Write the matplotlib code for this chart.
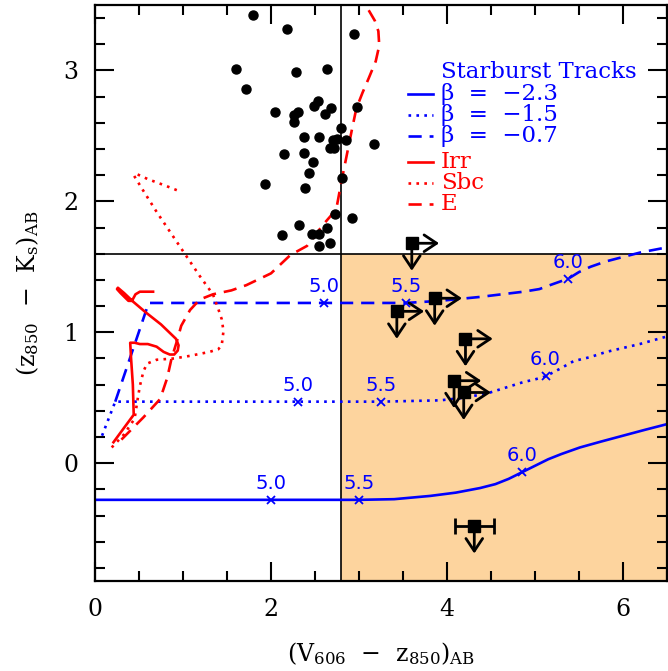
import matplotlib
matplotlib.use("Agg")
import matplotlib.pyplot as plt
from matplotlib.ticker import MultipleLocator

plt.rcParams['font.family'] = ['DejaVu Serif']
plt.rcParams['mathtext.fontset'] = 'dejavuserif'
plt.rcParams['mathtext.default'] = 'regular'

# ---------------- data ----------------
# LBG-like galaxies (filled circles)
dots_x = [1.79, 2.18, 2.94, 1.60, 2.28, 2.64, 1.72, 2.53, 2.49, 2.68, 2.98, 2.05, 2.31,
          2.26, 2.61, 2.26, 2.79, 2.38, 2.54, 2.75, 2.70, 2.85, 3.17, 2.67, 2.72, 2.15,
          2.38, 2.48, 2.43, 2.81, 1.93, 2.39, 2.73, 2.92, 2.32, 2.64, 2.12, 2.47, 2.54,
          2.55, 2.67]
dots_y = [3.42, 3.32, 3.28, 3.01, 2.99, 3.01, 2.86, 2.77, 2.73, 2.71, 2.72, 2.68, 2.68,
          2.66, 2.67, 2.61, 2.56, 2.49, 2.49, 2.48, 2.47, 2.47, 2.44, 2.41, 2.41, 2.36,
          2.37, 2.30, 2.22, 2.18, 2.13, 2.10, 1.90, 1.87, 1.82, 1.80, 1.74, 1.75, 1.75,
          1.66, 1.68]

# limits (squares with arrows)
lim_x = [3.60, 3.86, 3.43, 4.21, 4.08, 4.19]
lim_y = [1.68, 1.26, 1.16, 0.95, 0.63, 0.54]
# detected in V (only upper limit in z-K), with x error bar
det_x = [4.31]
det_y = [-0.48]
det_xerr = [0.22]

# starburst tracks
b23_x = [0.0, 2.0, 3.0, 3.4, 3.81, 4.1, 4.375, 4.55, 4.7, 4.85, 5.0, 5.15, 5.3, 5.51, 5.75,
         6.0, 6.25, 6.51]
b23_y = [-0.28, -0.28, -0.28, -0.275, -0.25, -0.225, -0.19, -0.16, -0.12, -0.07, -0.02,
         0.03, 0.07, 0.12, 0.165, 0.21, 0.255, 0.30]
b15_x = [0.08, 0.23, 2.31, 3.25, 3.92, 4.2, 4.35, 4.49, 4.68, 4.87, 5.0, 5.12, 5.28, 5.44,
         5.625, 5.81, 6.0, 6.19, 6.51]
b15_y = [0.21, 0.47, 0.47, 0.47, 0.48, 0.50, 0.52, 0.54, 0.58, 0.62, 0.64, 0.663, 0.72,
         0.78, 0.81, 0.85, 0.88, 0.91, 0.97]
b07_x = [0.23, 0.61, 2.60, 3.53, 3.92, 4.375, 4.87, 5.05, 5.17, 5.38, 5.5, 5.63, 5.8, 5.97,
         6.2, 6.51]
b07_y = [0.47, 1.224, 1.224, 1.224, 1.24, 1.27, 1.31, 1.33, 1.36, 1.41, 1.46, 1.50, 1.54,
         1.57, 1.61, 1.65]

# redshift markers on the tracks
z_labels = ['5.0', '5.5', '6.0']
b23_zx = [2.0, 3.0, 4.85]
b23_zy = [-0.28, -0.28, -0.07]
b15_zx = [2.31, 3.25, 5.12]
b15_zy = [0.47, 0.47, 0.663]
b07_zx = [2.60, 3.53, 5.38]
b07_zy = [1.224, 1.224, 1.41]

# galaxy template tracks
irr_x = [0.21, 0.33, 0.44, 0.43, 0.41, 0.40, 0.45, 0.51, 0.60, 0.70, 0.78, 0.85, 0.90, 0.94,
         0.95, 0.92, 0.75, 0.58, 0.44, 0.33, 0.26, 0.25, 0.29, 0.38, 0.42, 0.46, 0.51, 0.66]
irr_y = [0.16, 0.27, 0.37, 0.60, 0.80, 0.92, 0.92, 0.91, 0.91, 0.89, 0.85, 0.83, 0.83, 0.86,
         0.90, 0.95, 1.06, 1.15, 1.23, 1.30, 1.34, 1.33, 1.30, 1.24, 1.24, 1.29, 1.31, 1.31]
sbc_x = [0.19, 0.33, 0.45, 0.48, 0.51, 0.55, 0.59, 0.70, 0.90, 1.08, 1.30, 1.40, 1.44, 1.46,
         1.44, 1.40, 1.34, 1.19, 1.06, 0.90, 0.70, 0.55, 0.44, 0.47, 0.60, 0.80, 0.95]
sbc_y = [0.12, 0.22, 0.34, 0.47, 0.59, 0.70, 0.76, 0.79, 0.80, 0.82, 0.85, 0.87, 0.90, 1.01,
         1.10, 1.18, 1.29, 1.43, 1.56, 1.72, 1.92, 2.08, 2.20, 2.21, 2.17, 2.12, 2.08]
e_x = [0.30, 0.55, 0.74, 0.82, 0.87, 0.93, 0.98, 1.08, 1.19, 1.34, 1.55, 1.72, 2.00, 2.22,
       2.41, 2.59, 2.68, 2.75, 2.80, 2.86, 2.92, 2.97, 3.04, 3.11, 3.19, 3.23, 3.22, 3.18,
       3.11]
e_y = [0.18, 0.35, 0.49, 0.65, 0.80, 0.93, 1.05, 1.17, 1.25, 1.29, 1.32, 1.36, 1.45, 1.59,
       1.66, 1.82, 1.89, 1.97, 2.15, 2.35, 2.55, 2.71, 2.83, 2.94, 3.07, 3.19, 3.30, 3.38,
       3.46]

# selection box
x_cut = 2.8
y_cut = 1.6

# ---------------- plot ----------------
fig = plt.figure(figsize=(6.68, 6.71), dpi=100)
ax = fig.add_axes([95/668, 1 - 581/671, 572/668, 576/671])
ax.set_xlim(0, 6.5)
ax.set_ylim(-0.9, 3.5)

ax.axvspan(x_cut, 6.5, ymin=0, ymax=(y_cut + 0.9) / 4.4, color='#fdd49e', lw=0, zorder=0)
ax.axvline(x_cut, color='k', lw=1.2, zorder=1)
ax.axhline(y_cut, color='k', lw=1.2, zorder=1)

lw = 1.9
ax.plot(b23_x, b23_y, color='blue', lw=lw, ls='-', zorder=2)
ax.plot(b15_x, b15_y, color='blue', lw=lw, ls=(0, (1, 2)), zorder=2)
ax.plot(b07_x, b07_y, color='blue', lw=lw, ls=(0, (5, 3)), zorder=2)
for zx, zy in [(b23_zx, b23_zy), (b15_zx, b15_zy), (b07_zx, b07_zy)]:
    ax.plot(zx, zy, ls='none', marker='x', color='blue', ms=6, mew=1.3, zorder=3)
    for lab, xx, yy in zip(z_labels, zx, zy):
        ax.annotate(lab, (xx, yy), xytext=(0, 5), textcoords='offset points',
                    ha='center', va='bottom', color='blue', fontsize=14,
                    family='DejaVu Sans')

ax.plot(irr_x, irr_y, color='red', lw=lw, ls='-', zorder=2)
ax.plot(sbc_x, sbc_y, color='red', lw=lw, ls=(0, (1, 2)), zorder=2)
ax.plot(e_x, e_y, color='red', lw=lw, ls=(0, (5, 3)), zorder=2)

ax.plot(dots_x, dots_y, 'o', color='k', ms=6.5, zorder=4)

arrow_kw = dict(arrowstyle='->,head_length=0.45,head_width=0.3', lw=2.0, color='k',
                shrinkA=0, shrinkB=0, mutation_scale=20)
for xx, yy in zip(lim_x, lim_y):
    ax.annotate('', xy=(xx + 0.31, yy), xytext=(xx, yy), arrowprops=arrow_kw, zorder=4)
    ax.annotate('', xy=(xx, yy - 0.21), xytext=(xx, yy), arrowprops=arrow_kw, zorder=4)
ax.plot(lim_x, lim_y, 's', color='k', ms=9, zorder=5)

for xx, yy, ex in zip(det_x, det_y, det_xerr):
    ax.errorbar([xx], [yy], xerr=[ex], fmt='s', color='k', ms=9, elinewidth=2,
                capsize=6, capthick=2, zorder=5)
    ax.annotate('', xy=(xx, yy - 0.21), xytext=(xx, yy), arrowprops=arrow_kw, zorder=4)

# legend (drawn manually)
lx0, lx1, tx = 3.56, 3.84, 3.93
fs_leg = 16.5
ax.text(tx, 2.99, 'Starburst Tracks', color='blue', fontsize=fs_leg, va='center', ha='left')
rows = [('β  =  −2.3', 'blue', '-', 2.82), ('β  =  −1.5', 'blue', (0, (1, 2)), 2.66),
        ('β  =  −0.7', 'blue', (0, (5, 3)), 2.50),
        ('Irr', 'red', '-', 2.30), ('Sbc', 'red', (0, (1, 2)), 2.14), ('E', 'red', (0, (5, 3)), 1.98)]
for lab, col, ls, yy in rows:
    ax.plot([lx0, lx1], [yy, yy], color=col, ls=ls, lw=lw)
    ax.text(tx, yy, lab, color=col, fontsize=fs_leg, va='center', ha='left')

# axes styling
ax.xaxis.set_major_locator(MultipleLocator(2))
ax.xaxis.set_minor_locator(MultipleLocator(0.5))
ax.yaxis.set_major_locator(MultipleLocator(1))
ax.yaxis.set_minor_locator(MultipleLocator(0.2))
ax.tick_params(which='both', direction='in', top=True, right=True, width=1.5)
ax.tick_params(which='major', length=14, labelsize=17, pad=12)
ax.tick_params(which='minor', length=7)
for s in ax.spines.values():
    s.set_linewidth(1.6)

ax.set_xlabel(r'(V$_{606}$  −  z$_{850}$)$_{\rm AB}$', fontsize=17, labelpad=14)
ax.set_ylabel(r'(z$_{850}$  −  K$_{\rm s}$)$_{\rm AB}$', fontsize=17, labelpad=16)

fig.savefig('out.png', dpi=100)
